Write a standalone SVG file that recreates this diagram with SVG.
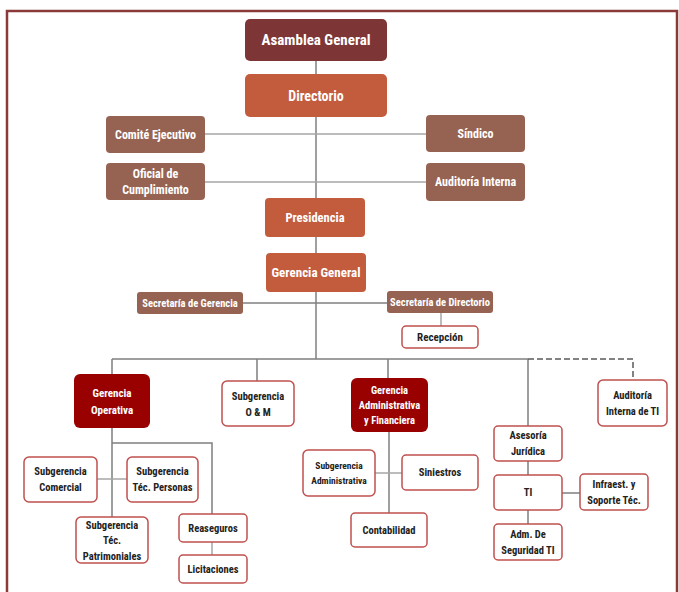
<svg xmlns="http://www.w3.org/2000/svg" width="679" height="592" viewBox="0 0 679 592">
<style>
text{font-family:"Liberation Sans Narrow","Roboto Condensed","DejaVu Sans Condensed","Liberation Sans",sans-serif;font-weight:bold;text-anchor:middle;dominant-baseline:central}
.top{fill:#7E3536}
.org{fill:#C35B3D}
.brn{fill:#966353}
.red{fill:#990000}
.wht{fill:#fff;stroke:#C0504D;stroke-width:1.5}
.lt{fill:#fff}
.dk{fill:#222}
.ln{stroke:#7F7F7F;stroke-width:1.5;fill:none}
.lg{stroke:#A6A6A6;stroke-width:1.5;fill:none}
.dash{stroke:#595959;stroke-width:1.5;fill:none;stroke-dasharray:6,3}
</style>
<rect width="679" height="592" fill="#fff"/>
<rect x="7" y="11" width="670" height="600" fill="none" stroke="#8B3A3A" stroke-width="2.5"/>
<g id="connectors">
<path class="ln" d="M316 61V359"/>
<path class="lg" d="M205 134H426M205 182H426"/>
<path class="ln" d="M243 303H387"/>
<path class="lg" d="M441 313V326"/>
<path class="ln" d="M112 359H528M112 359V374M257 359V381M388 359V378M528 359V426"/>
<path class="dash" d="M528 359H633V380"/>
<path class="ln" d="M112 428V517M112 443H212V514"/>
<path class="lg" d="M212 542V555M97 479H127"/>
<path class="ln" d="M389 432V513"/>
<path class="lg" d="M375 473H402"/>
<path class="ln" d="M528 461V475M528 510V524M562 493H580"/>
</g>
<g id="asamblea"><rect class="top" x="245" y="19" width="142" height="42" rx="5"/><text class="lt" x="316" y="40" font-size="15">Asamblea General</text></g>
<g id="directorio"><rect class="org" x="245" y="74" width="142" height="43" rx="5"/><text class="lt" x="316" y="95.5" font-size="14">Directorio</text></g>
<g id="comite"><rect class="brn" x="106" y="116" width="99" height="37" rx="4"/><text class="lt" x="155.5" y="134.5" font-size="12">Comité Ejecutivo</text></g>
<g id="sindico"><rect class="brn" x="426" y="115" width="99" height="37" rx="4"/><text class="lt" x="475.5" y="133.5" font-size="12">Síndico</text></g>
<g id="oficial"><rect class="brn" x="106" y="163" width="99" height="37" rx="4"/><text class="lt" x="155.5" y="174" font-size="12">Oficial de</text><text class="lt" x="155.5" y="190" font-size="12">Cumplimiento</text></g>
<g id="auditoria-interna"><rect class="brn" x="426" y="163" width="99" height="38" rx="4"/><text class="lt" x="475.5" y="182" font-size="12">Auditoría Interna</text></g>
<g id="presidencia"><rect class="org" x="265" y="198" width="100" height="39" rx="4"/><text class="lt" x="315" y="217.5" font-size="12.5">Presidencia</text></g>
<g id="gerencia-general"><rect class="org" x="266" y="253" width="100" height="39" rx="4"/><text class="lt" x="316" y="272.5" font-size="13">Gerencia General</text></g>
<g id="sec-gerencia"><rect class="brn" x="137" y="292" width="106" height="22" rx="3"/><text class="lt" x="190" y="303" font-size="10.5">Secretaría de Gerencia</text></g>
<g id="sec-directorio"><rect class="brn" x="387" y="291" width="106" height="22" rx="3"/><text class="lt" x="440" y="302" font-size="10.5">Secretaría de Directorio</text></g>
<g id="recepcion"><rect class="wht" x="402" y="326" width="76" height="22" rx="4"/><text class="dk" x="440" y="337" font-size="11">Recepción</text></g>
<g id="gerencia-operativa"><rect class="red" x="74" y="374" width="76" height="54" rx="6"/><text class="lt" x="112" y="393" font-size="11">Gerencia</text><text class="lt" x="112" y="410" font-size="11">Operativa</text></g>
<g id="subg-om"><rect class="wht" x="222" y="381" width="72" height="45" rx="5"/><text class="dk" x="258" y="396" font-size="10.5">Subgerencia</text><text class="dk" x="258" y="412" font-size="10.5">O &amp; M</text></g>
<g id="gerencia-adm"><rect class="red" x="351" y="378" width="77" height="54" rx="6"/><text class="lt" x="389.5" y="390" font-size="10.5">Gerencia</text><text class="lt" x="389.5" y="405" font-size="10.5">Administrativa</text><text class="lt" x="389.5" y="420" font-size="10.5">y Financiera</text></g>
<g id="asesoria"><rect class="wht" x="494" y="426" width="68" height="35" rx="4"/><text class="dk" x="528" y="435" font-size="10.5">Asesoría</text><text class="dk" x="528" y="451" font-size="10.5">Jurídica</text></g>
<g id="auditoria-ti"><rect class="wht" x="598" y="380" width="69" height="46" rx="5"/><text class="dk" x="632.5" y="395" font-size="10.5">Auditoría</text><text class="dk" x="632.5" y="411" font-size="10.5">Interna de TI</text></g>
<g id="subg-comercial"><rect class="wht" x="24" y="457" width="73" height="45" rx="5"/><text class="dk" x="60.5" y="471" font-size="10.5">Subgerencia</text><text class="dk" x="60.5" y="487" font-size="10.5">Comercial</text></g>
<g id="subg-personas"><rect class="wht" x="127" y="457" width="71" height="45" rx="5"/><text class="dk" x="162.5" y="471" font-size="10.5">Subgerencia</text><text class="dk" x="162.5" y="487" font-size="10.5">Téc. Personas</text></g>
<g id="subg-patrimoniales"><rect class="wht" x="76" y="517" width="72" height="46" rx="5"/><text class="dk" x="112" y="525" font-size="10.5">Subgerencia</text><text class="dk" x="112" y="540" font-size="10.5">Téc.</text><text class="dk" x="112" y="556" font-size="10.5">Patrimoniales</text></g>
<g id="reaseguros"><rect class="wht" x="179" y="514" width="68" height="28" rx="4"/><text class="dk" x="213" y="528" font-size="10.5">Reaseguros</text></g>
<g id="licitaciones"><rect class="wht" x="179" y="555" width="68" height="28" rx="4"/><text class="dk" x="213" y="569" font-size="10.5">Licitaciones</text></g>
<g id="subg-admin"><rect class="wht" x="303" y="450" width="72" height="46" rx="5"/><text class="dk" x="339" y="465" font-size="9.5">Subgerencia</text><text class="dk" x="339" y="480" font-size="9.5">Administrativa</text></g>
<g id="siniestros"><rect class="wht" x="402" y="455" width="76" height="35" rx="4"/><text class="dk" x="440" y="472.5" font-size="10.5">Siniestros</text></g>
<g id="contabilidad"><rect class="wht" x="351" y="513" width="76" height="34" rx="4"/><text class="dk" x="389" y="530" font-size="10.5">Contabilidad</text></g>
<g id="ti"><rect class="wht" x="494" y="475" width="68" height="35" rx="4"/><text class="dk" x="528" y="492.5" font-size="10.5">TI</text></g>
<g id="adm-seguridad"><rect class="wht" x="494" y="524" width="68" height="36" rx="4"/><text class="dk" x="528" y="534" font-size="10.5">Adm. De</text><text class="dk" x="528" y="550" font-size="10.5">Seguridad TI</text></g>
<g id="infraest"><rect class="wht" x="580" y="474" width="68" height="36" rx="4"/><text class="dk" x="614" y="484" font-size="10.5">Infraest. y</text><text class="dk" x="614" y="500" font-size="10.5">Soporte Téc.</text></g>
</svg>
